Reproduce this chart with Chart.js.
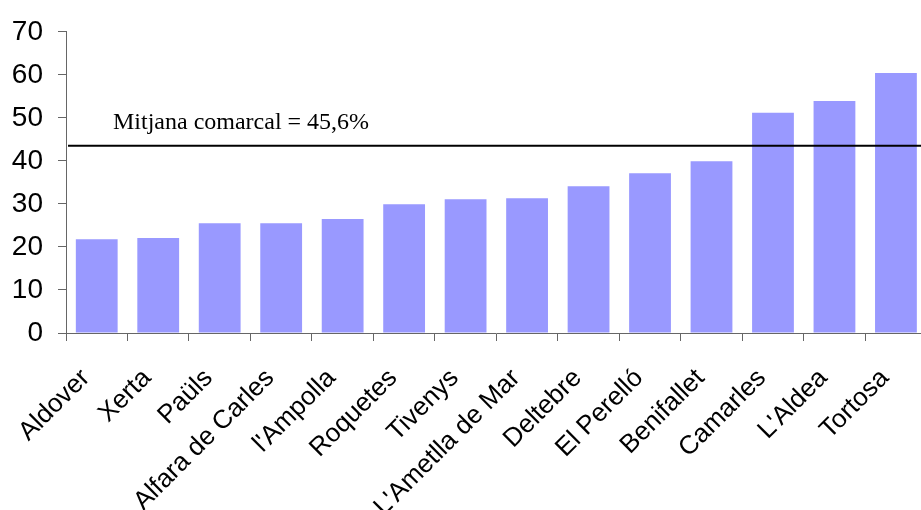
<!DOCTYPE html>
<html>
<head>
<meta charset="utf-8">
<script src="https://cdn.jsdelivr.net/npm/chart.js@4/dist/chart.umd.min.js"></script>
<style>
  html, body { margin: 0; padding: 0; background: #fff; overflow: hidden; }
</style>
</head>
<body>
<canvas id="chart" width="940" height="510"></canvas>
<script>
/* DATA */
const municipis = ["Aldover", "Xerta", "Paüls", "Alfara de Carles", "l'Ampolla", "Roquetes", "Tivenys",
    "L'Ametlla de Mar", "Deltebre", "El Perelló", "Benifallet", "Camarles", "L'Aldea", "Tortosa"];
const valors = [21.8, 22.1, 25.5, 25.5, 26.5, 29.9, 31.1, 31.3, 34.1, 37.1, 39.9, 51.2, 53.9, 60.4];
const yTicks = [0, 10, 20, 30, 40, 50, 60, 70];
const mitjana = 43.5;
const mitjanaText = "Mitjana comarcal = 45,6%";

/* mean line, drawn through the y scale */
const meanLine = {
    id: "meanLine",
    afterDatasetsDraw(chart) {
        const { ctx, chartArea, scales } = chart;
        const y = scales.y.getPixelForValue(mitjana);
        ctx.save();
        ctx.strokeStyle = "#000";
        ctx.lineWidth = 2;
        ctx.beginPath();
        ctx.moveTo(chartArea.left + 2, y);
        ctx.lineTo(chartArea.right, y);
        ctx.stroke();
        ctx.fillStyle = "#000";
        ctx.font = "24px 'Liberation Serif', 'Times New Roman', serif";
        ctx.textBaseline = "alphabetic";
        ctx.fillText(mitjanaText, chartArea.left + 47, y - 17);
        ctx.restore();
    }
};

new Chart(document.getElementById("chart"), {
    type: "bar",
    data: {
        labels: municipis,
        datasets: [{
            data: valors,
            backgroundColor: "#9999FF",
            borderWidth: 0,
            categoryPercentage: 1,
            barPercentage: 0.68
        }]
    },
    options: {
        responsive: false,
        animation: false,
        layout: { padding: { top: 30, right: 0, left: 0, bottom: 0 } },
        plugins: { legend: { display: false }, tooltip: { enabled: false } },
        scales: {
            x: {
                grid: { drawOnChartArea: false, tickLength: 8, color: "#666" },
                border: { color: "#666", width: 1 },
                ticks: {
                    minRotation: 45, maxRotation: 45, padding: 22, labelOffset: -11,
                    color: "#000",
                    font: { family: "'Liberation Sans', Arial, sans-serif", size: 26 }
                },
                afterFit(scale) { scale.height = 177; }
            },
            y: {
                min: 0, max: 70,
                afterBuildTicks(scale) { scale.ticks = yTicks.map(v => ({ value: v })); },
                grid: { drawOnChartArea: false, tickLength: 8, color: "#666" },
                border: { color: "#666", width: 1 },
                ticks: {
                    padding: 15,
                    color: "#000",
                    font: { family: "'Liberation Sans', Arial, sans-serif", size: 28 }
                },
                afterFit(scale) { scale.width = 66; }
            }
        }
    },
    plugins: [meanLine]
});
</script>
</body>
</html>
